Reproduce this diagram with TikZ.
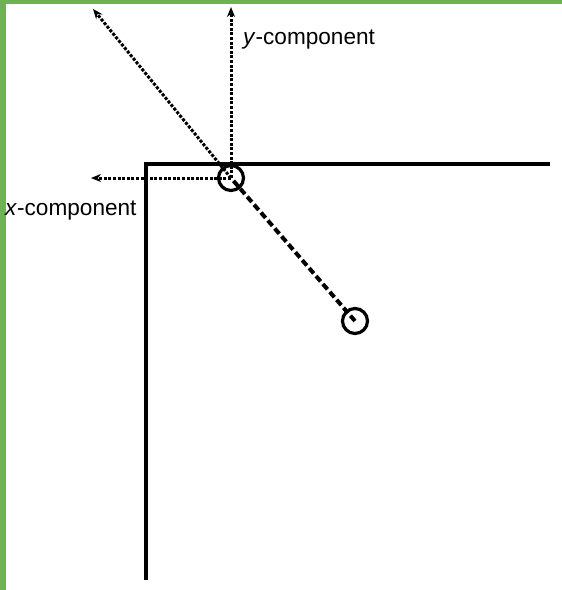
\documentclass[tikz,border=0pt]{standalone}
\usepackage{fontspec}
\setmainfont{Liberation Sans}
\usetikzlibrary{arrows.meta}
\definecolor{framegreen}{RGB}{110,178,84}
\begin{document}
\begin{tikzpicture}[x=1pt,y=-1pt,
  wall/.style={line width=3.4pt},
  ball/.style={circle,draw,line width=3.2pt,minimum size=25pt,inner sep=0pt},
  path/.style={line width=4pt,dash pattern=on 7pt off 3.5pt},
  comp/.style={line width=3pt,dash pattern=on 3pt off 1.6pt,-{Stealth[length=10pt,width=8pt]}},
  lbl/.style={font=\fontsize{22.6}{26}\selectfont,inner sep=0pt}]
\useasboundingbox (0,0) rectangle (562,590);
\fill[white] (0,0) rectangle (562,590);
\fill[framegreen] (0,0) rectangle (562,4);
\fill[framegreen] (0,0) rectangle (6,590);
% walls
\coordinate (corner) at (146,164);
\coordinate (wallE) at (550,164);
\coordinate (wallS) at (146,580);
\draw[wall] (wallE) -- (corner) -- (wallS);
% balls
\node[ball] (b1) at (231,178) {};
\node[ball] (b2) at (355,321) {};
\draw[path] (b2.center) -- (b1.center);
% component arrows
\coordinate (tipD) at (93,9);
\coordinate (tipY) at (231,7);
\coordinate (tipX) at (91,178);
\draw[comp] (b1.center) -- (tipD);
\draw[comp] (b1.center) -- (tipY);
\draw[comp] (b1.center) -- (tipX);
% labels
\node[lbl,anchor=west] (ly) at (243,40) {\textit{y}-component};
\node[lbl,anchor=west] (lx) at (5,211) {\textit{x}-component};
\end{tikzpicture}
\end{document}
